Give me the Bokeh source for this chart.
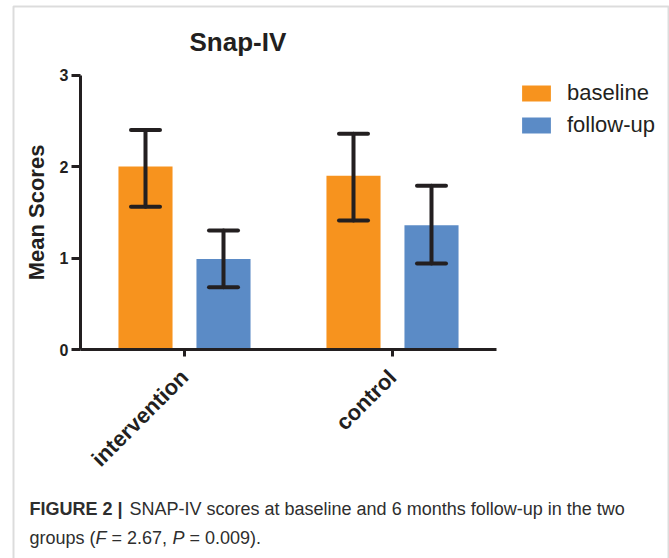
import math
import numpy as np
from bokeh.plotting import figure
from bokeh.models import (ColumnDataSource, Range1d, FixedTicker, LinearAxis, Whisker, TeeHead,
                          Legend, LegendItem, Label, BoxAnnotation)
from bokeh.transform import dodge
from bokeh.embed import file_html
from bokeh.resources import INLINE

# ---- data ----
groups = ["intervention", "control"]
baseline_mean = [2.00, 1.90]
baseline_lower = [1.56, 1.41]
baseline_upper = [2.40, 2.36]
followup_mean = [0.99, 1.36]
followup_lower = [0.68, 0.94]
followup_upper = [1.30, 1.79]
y_ticks = [0, 1, 2, 3]
series_names = ["baseline", "follow-up"]

# ---- styling / geometry ----
W, H = 669, 558
AX_X0 = 80        # pixel column of the y axis
UNIT_X = 208      # pixels per group
Y0_PX = 349       # pixel row of value 0
UNIT_Y = 91.45    # pixels per score unit

ORANGE = "#F7931E"
BLUE = "#5B8BC6"
INK = "#231F20"
FONT = "Liberation Sans"

xc = np.arange(len(groups)) + 0.5   # group centres on the numeric x scale

src_b = ColumnDataSource(dict(x=xc, top=baseline_mean, lower=baseline_lower, upper=baseline_upper))
src_f = ColumnDataSource(dict(x=xc, top=followup_mean, lower=followup_lower, upper=followup_upper))

p = figure(width=W, height=H, output_backend="svg", toolbar_location=None,
           x_axis_type=None, y_axis_type=None,
           x_range=Range1d(-AX_X0 / UNIT_X, (W - AX_X0) / UNIT_X),
           y_range=Range1d(-(H - Y0_PX) / UNIT_Y, Y0_PX / UNIT_Y),
           min_border=0, min_border_left=0, min_border_right=0,
           min_border_top=0, min_border_bottom=0)
p.outline_line_color = None
p.grid.visible = False
p.background_fill_color = "white"
p.border_fill_color = "white"

off = 0.1875
bw = 0.26
rb = p.vbar(x=dodge("x", -off), top="top", width=bw, source=src_b,
            fill_color=ORANGE, line_color=None)
rf = p.vbar(x=dodge("x", off), top="top", width=bw, source=src_f,
            fill_color=BLUE, line_color=None)

for src, o in ((src_b, -off), (src_f, off)):
    w = Whisker(source=src, base=dodge("x", o), upper="upper", lower="lower",
                line_color=INK, line_width=4, line_cap="round", level="overlay",
                upper_head=TeeHead(size=29, line_color=INK, line_width=4, line_cap="round"),
                lower_head=TeeHead(size=29, line_color=INK, line_width=4, line_cap="round"))
    p.add_layout(w)

# axes
ya = LinearAxis(ticker=FixedTicker(ticks=y_ticks), fixed_location=0,
                bounds=(y_ticks[0], y_ticks[-1]))
ya.minor_tick_line_color = None
ya.major_tick_in = 0
ya.major_tick_out = 9
ya.major_tick_line_width = 3
ya.major_tick_line_color = INK
ya.axis_line_width = 3
ya.axis_line_color = INK
ya.major_label_text_font = FONT
ya.major_label_text_font_style = "bold"
ya.major_label_text_font_size = "16px"
ya.major_label_text_color = INK
ya.major_label_standoff = 3
ya.axis_label = "Mean Scores"
ya.axis_label_text_font = FONT
ya.axis_label_text_font_style = "bold"
ya.axis_label_text_font_size = "22px"
ya.axis_label_text_color = INK
ya.axis_label_standoff = 8
p.add_layout(ya, "left")

xa = LinearAxis(ticker=FixedTicker(ticks=list(xc)), fixed_location=0,
                bounds=(0, len(groups)),
                major_label_overrides={float(v): g for v, g in zip(xc, groups)})
xa.minor_tick_line_color = None
xa.major_tick_in = 0
xa.major_tick_out = 7
xa.major_tick_line_width = 3
xa.major_tick_line_color = INK
xa.axis_line_width = 3
xa.axis_line_color = INK
xa.major_label_orientation = math.pi / 4
xa.major_label_text_font = FONT
xa.major_label_text_font_style = "bold"
xa.major_label_text_font_size = "22px"
xa.major_label_text_color = INK
xa.major_label_standoff = 17
p.add_layout(xa, "below")

# legend
legend = Legend(items=[LegendItem(label=series_names[0], renderers=[rb]),
                       LegendItem(label=series_names[1], renderers=[rf])],
                location=(518, 420), padding=0, margin=0, spacing=6,
                glyph_width=36, glyph_height=20, label_height=19, label_standoff=13,
                label_text_font=FONT, label_text_font_size="22px", label_text_color=INK,
                border_line_color=None, background_fill_alpha=0)
p.add_layout(legend, "center")

# title
p.add_layout(Label(x=189, y=H - 41, x_units="screen", y_units="screen", text="Snap-IV",
                   text_font=FONT, text_font_style="bold", text_font_size="26px",
                   text_color=INK, text_baseline="alphabetic"))

# caption
cap_color = "#2E2E2E"
L1, L2 = 508, 537
def cap(x, y, t, style="normal"):
    p.add_layout(Label(x=x, y=H - y, x_units="screen", y_units="screen", text=t,
                       text_font=FONT, text_font_style=style, text_font_size="18px",
                       text_color=cap_color, text_baseline="alphabetic"))

cap(29, L1, "FIGURE 2 |", "bold")
cap(129, L1, "SNAP-IV scores at baseline and 6 months follow-up in the two")
cap(29, L2, "groups (")
cap(95, L2, "F", "italic")
cap(111, L2, "= 2.67,")
cap(172, L2, "P", "italic")
cap(189, L2, "= 0.009).")

# outer frame of the figure panel
p.add_layout(BoxAnnotation(left=13, right=668, top=H - 6, bottom=-20,
                           left_units="screen", right_units="screen",
                           top_units="screen", bottom_units="screen",
                           fill_alpha=0, line_color="#8C8C8C", line_width=2, level="overlay"))

open("out.html", "w").write(file_html(p, INLINE))
